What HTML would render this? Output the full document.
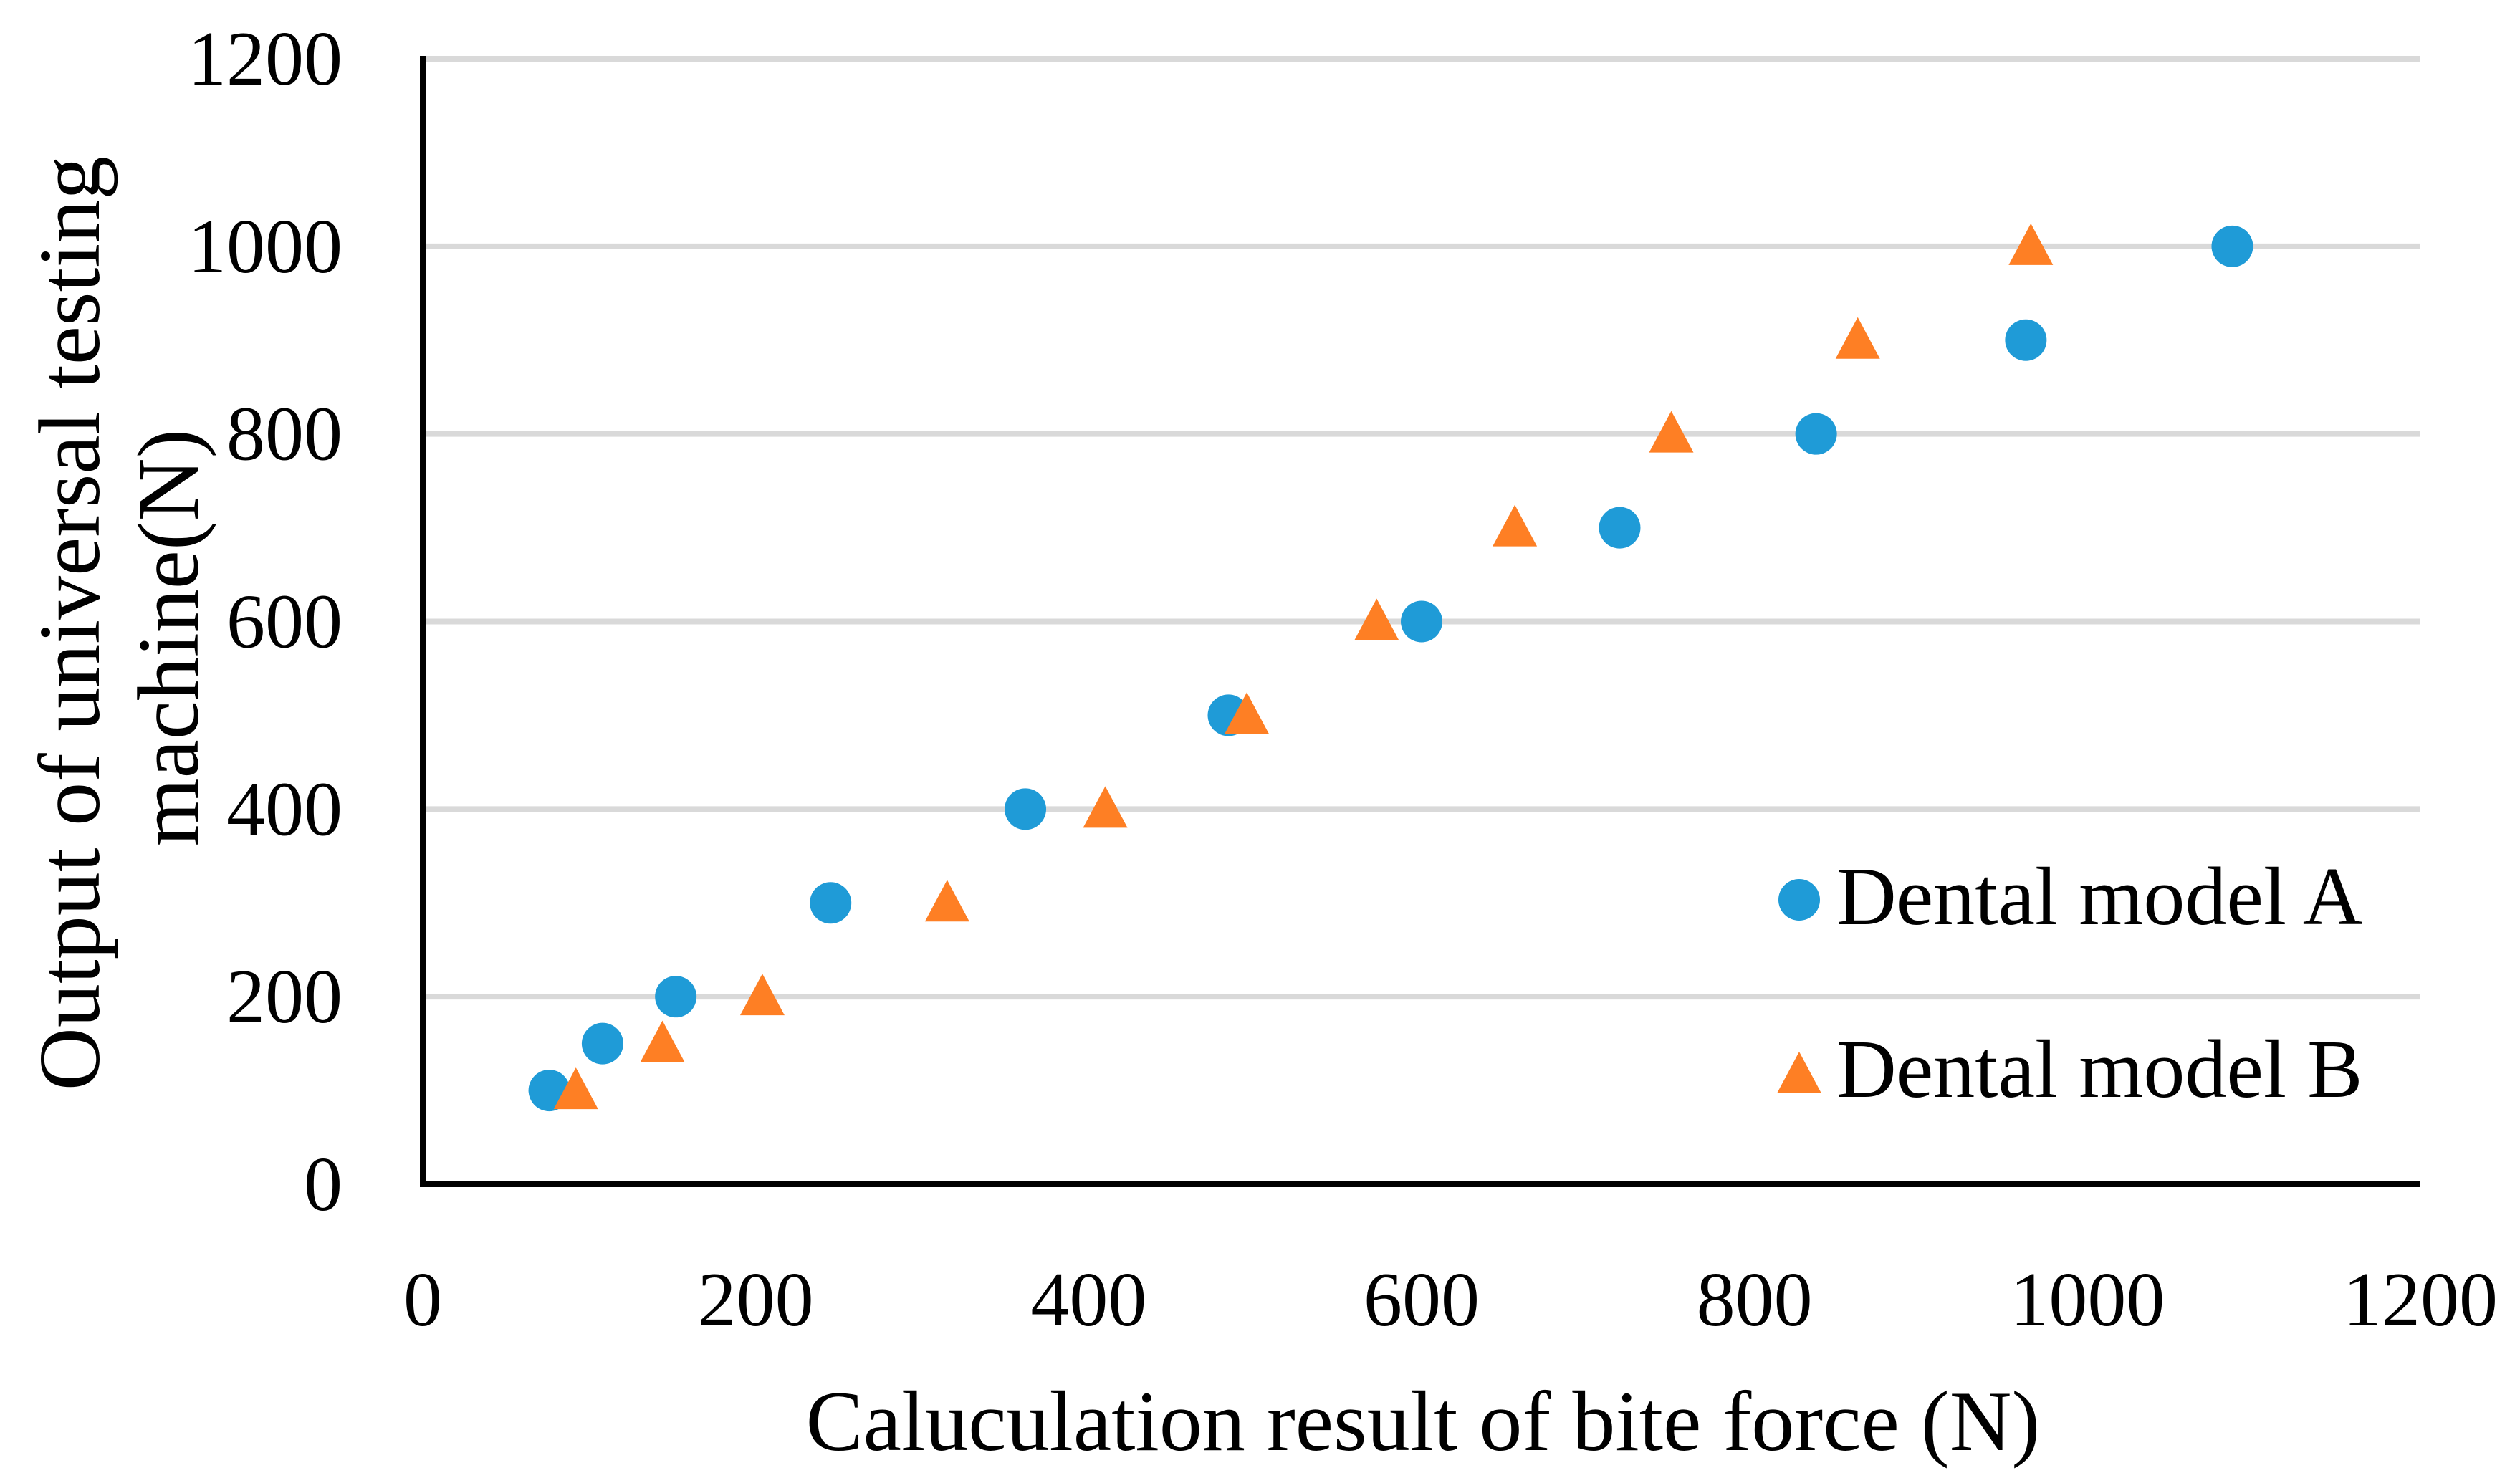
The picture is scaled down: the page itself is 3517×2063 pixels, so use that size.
<!DOCTYPE html>
<html><head><meta charset="utf-8"><style>
html,body{margin:0;padding:0;background:#fff;}
svg{display:block;font-family:"Liberation Serif",serif;}
</style></head><body>
<svg id="chart" width="3517" height="2063" viewBox="0 0 3517 2063" xmlns="http://www.w3.org/2000/svg">
<g id="grid"></g>
<g id="yticks"></g>
<g id="xticks"></g>
<g id="marks"></g>
<line x1="590" y1="78" x2="590" y2="1657" stroke="#000" stroke-width="8"/>
<line x1="586" y1="1653" x2="3378" y2="1653" stroke="#000" stroke-width="8"/>
<text x="1986" y="2024" font-size="120" text-anchor="middle">Caluculation result of bite force  (N)</text>
<g>
<text x="0" y="0" font-size="122" text-anchor="middle" transform="translate(138,870) rotate(-90)">Output of universal testing</text>
<text x="0" y="0" font-size="122" text-anchor="middle" transform="translate(276,890) rotate(-90)">machine(N)</text>
</g>
<g>
<g>
<circle cx="2511" cy="1256" r="29" fill="#1f9bd7"/>
<text x="2563" y="1290" font-size="116">Dental model A</text>
</g>
<g>
<polygon points="2511,1468 2542,1526 2480,1526" fill="#fe7f24"/>
<text x="2563" y="1531" font-size="116">Dental model B</text>
</g>
</g>
</svg>
<script>
const yTickValues = [0, 200, 400, 600, 800, 1000, 1200];
const xTickValues = [0, 200, 400, 600, 800, 1000, 1200];
const seriesAx = [76, 108, 152, 245, 362, 484, 600, 719, 837, 963, 1087];
const seriesAy = [100, 150, 200, 300, 400, 500, 600, 700, 800, 900, 1000];
const seriesBx = [92, 144, 204, 315, 410, 495, 573, 656, 750, 862, 966];
const seriesBy = [100, 150, 200, 300, 400, 500, 600, 700, 800, 900, 1000];

const NS = "http://www.w3.org/2000/svg";
const X0 = 590, X1 = 3378, Y0 = 1653, Y1 = 82;
function xs(v){ return X0 + (v/1200)*(X1-X0); }
function ys(v){ return Y0 - (v/1200)*(Y0-Y1); }
function mk(tag, attrs){ const e=document.createElementNS(NS,tag); for(const k in attrs) e.setAttribute(k,attrs[k]); return e; }

const grid=document.getElementById('grid'), yt=document.getElementById('yticks'), xt=document.getElementById('xticks'), marks=document.getElementById('marks');
yTickValues.forEach(v=>{
  if(v>0){
    const l=mk('line',{x1:X0,x2:X1,y1:ys(v),y2:ys(v),stroke:'#d9d9d9','stroke-width':8});
    
    
    grid.appendChild(l);
  }
  const t=mk('text',{x:478,y:ys(v)+36,'font-size':108,'text-anchor':'end'});
  t.textContent=v;
  
  
  yt.appendChild(t);
});
xTickValues.forEach(v=>{
  const t=mk('text',{x:xs(v),y:1850,'font-size':108,'text-anchor':'middle'});
  t.textContent=v;
  
  
  xt.appendChild(t);
});
seriesAx.forEach((x,i)=>{
  const c=mk('circle',{cx:xs(x),cy:ys(seriesAy[i]),r:29,fill:'#1f9bd7'});
  
  
  marks.appendChild(c);
});
seriesBx.forEach((x,i)=>{
  const cx=xs(x), cy=ys(seriesBy[i]);
  const p=mk('polygon',{points:`${cx},${cy-32} ${cx+31},${cy+26} ${cx-31},${cy+26}`,fill:'#fe7f24'});
  
  
  marks.appendChild(p);
});
</script>
</body></html>
